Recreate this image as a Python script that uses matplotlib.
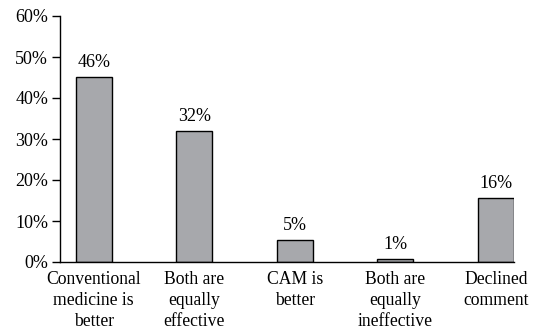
import matplotlib
matplotlib.use("Agg")
import matplotlib.pyplot as plt
from matplotlib.ticker import FuncFormatter

categories = ["Conventional\nmedicine is\nbetter", "Both are\nequally\neffective",
              "CAM is\nbetter", "Both are\nequally\nineffective", "Declined\ncomment"]
values = [45.2, 32.0, 5.4, 0.8, 15.6]
labels = ["46%", "32%", "5%", "1%", "16%"]

plt.rcParams["font.family"] = "Liberation Serif"

fig = plt.figure(figsize=(5.39, 3.31), dpi=100)
ax = fig.add_axes([60 / 539, 69 / 331, 454 / 539, 246 / 331])

x = range(len(categories))
w = 0.357
ax.bar(x, values, width=w, color="#a7a8ac", edgecolor="black", linewidth=1.0, zorder=2)
for i, v in enumerate(values):
    ax.annotate(labels[i], (i, v), xytext=(0, 4), textcoords="offset points",
                ha="center", va="bottom", fontsize=13)

ax.set_xlim(-w / 2 - 0.156, len(categories) - 1 + w / 2)
ax.set_ylim(0, 60)
ax.set_yticks(range(0, 61, 10))
ax.yaxis.set_major_formatter(FuncFormatter(lambda v, p: f"{int(v)}%"))
ax.set_xticks(list(x))
ax.set_xticklabels(categories, fontsize=12.7, linespacing=1.32)
ax.tick_params(axis="x", length=0, pad=6.5)
ax.tick_params(axis="y", length=5.5, width=1, labelsize=13, pad=3)
ax.spines["top"].set_visible(False)
ax.spines["right"].set_visible(False)
for s in ("left", "bottom"):
    ax.spines[s].set_linewidth(1.0)

fig.savefig("out.png", dpi=100)
